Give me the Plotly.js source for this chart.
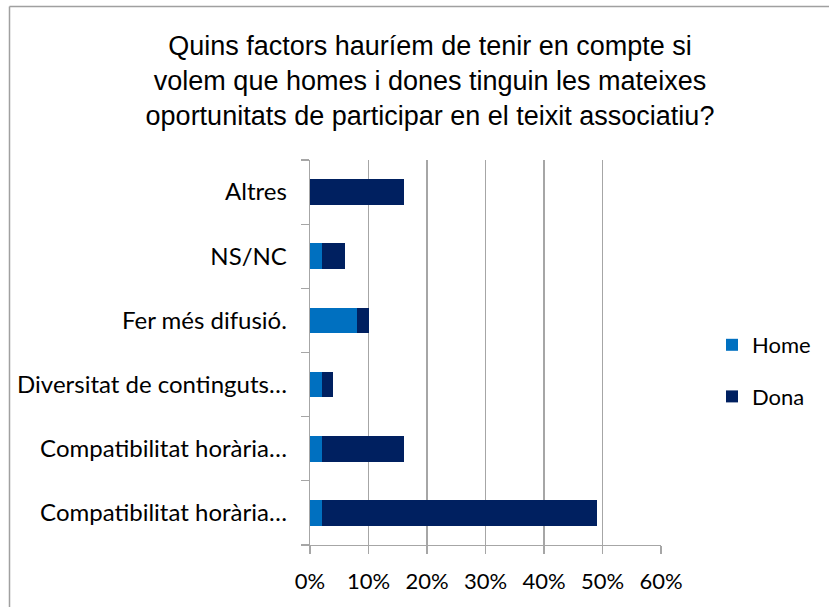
<!DOCTYPE html>
<html>
<head>
<meta charset="utf-8">
<script src="https://cdn.plot.ly/plotly-3.0.1.min.js"></script>
<style>
html,body{margin:0;padding:0;background:#fff;}
#chart{width:829px;height:607px;}
</style>
</head>
<body>
<div id="chart"></div>
<script>
// Categories listed bottom to top
var categories = [
  "Compatibilitat horària…",
  "Compatibilitat horària…",
  "Diversitat de continguts…",
  "Fer més difusió.",
  "NS/NC",
  "Altres"
];
var home = [2, 2, 2, 8, 2, 0];
var dona = [47, 14, 2, 2, 4, 16];
var xTicks = [0, 10, 20, 30, 40, 50, 60];
var seriesNames = ["Home", "Dona"];
var seriesColors = ["#0070C0", "#002060"];

var pos = categories.map(function(_, i){ return i; });
var bounds = [];
for (var i = 0; i <= categories.length; i++) bounds.push(i - 0.5);

var W = 829, H = 607;
var L = 310, R = 661, T = 160, B = 545;
function px(x){ return (x - L) / (R - L); }
function py(y){ return (B - y) / (B - T); }

var traces = [
  {type:"bar", orientation:"h", name:seriesNames[0], x:home, y:pos,
   marker:{color:seriesColors[0], line:{width:0}}, legendgroup:"a", hoverinfo:"x+name"},
  {type:"bar", orientation:"h", name:seriesNames[1], x:dona, y:pos,
   marker:{color:seriesColors[1], line:{width:0}}, legendgroup:"b", hoverinfo:"x+name"}
];

var layout = {
  width: W, height: H,
  margin: {l: L, r: W - R, t: T, b: H - B, pad: 0},
  paper_bgcolor: "#fff", plot_bgcolor: "#fff",
  barmode: "stack", bargap: 0.6,
  font: {family: "Lato, 'Open Sans', sans-serif", color: "#000", size: 22},
  title: {
    text: "Quins factors hauríem de tenir en compte si<br>volem que homes i dones tinguin les mateixes<br>oportunitats de participar en el teixit associatiu?",
    font: {family: "'Liberation Sans', Arial, sans-serif", size: 27, color: "#000"},
    xref: "container", x: 430 / W, xanchor: "center",
    yref: "container", y: 1 - 55 / H, yanchor: "top"
  },
  xaxis: {
    range: [0, 60], tickvals: xTicks, ticktext: xTicks.map(function(v){return v + "%";}),
    tickfont: {size: 22},
    showgrid: true, gridcolor: "#A6A6A6", gridwidth: 1.3,
    showline: true, linecolor: "#A6A6A6", linewidth: 1.3,
    ticks: "outside", ticklen: 8, tickcolor: "#A6A6A6", tickwidth: 1.3,
    ticklabelstandoff: 8, zeroline: false, fixedrange: true
  },
  yaxis: {
    range: [-0.5, categories.length - 0.5],
    tickvals: pos, ticktext: categories,
    tickfont: {size: 24},
    ticks: "", showgrid: false, zeroline: false,
    showline: true, linecolor: "#A6A6A6", linewidth: 1.3,
    ticklabelstandoff: 17,
    minor: {tickvals: bounds, ticks: "outside", ticklen: 8, tickcolor: "#A6A6A6", tickwidth: 1.3, showgrid: false},
    fixedrange: true
  },
  showlegend: true,
  legend: {
    x: px(712), xanchor: "left", y: py(371), yanchor: "middle",
    traceorder: "grouped", tracegroupgap: 20,
    font: {family: "Lato, sans-serif", size: 22, color: "#000"},
    bgcolor: "rgba(0,0,0,0)"
  },
  shapes: [
    {type:"line", xref:"paper", yref:"paper", x0:px(9.5), x1:px(9.5), y0:py(6.5), y1:py(620), line:{color:"#A0A0A0", width:1.5}},
    {type:"line", xref:"paper", yref:"paper", x0:px(9.5), x1:px(840), y0:py(6.5), y1:py(6.5), line:{color:"#A0A0A0", width:1.5}}
  ]
};

Plotly.newPlot("chart", traces, layout, {displayModeBar: false, staticPlot: true});
</script>
</body>
</html>
